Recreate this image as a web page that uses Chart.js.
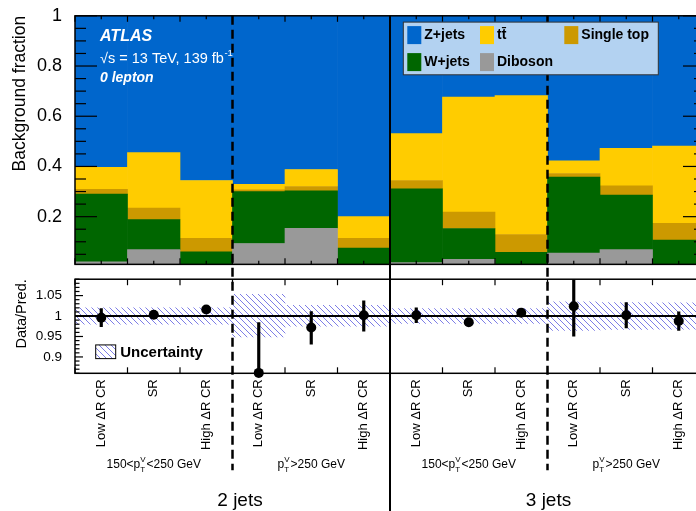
<!DOCTYPE html>
<html>
<head>
<meta charset="utf-8">
<script src="https://cdn.jsdelivr.net/npm/chart.js@4.4.1/dist/chart.umd.min.js"></script>
<style>
  html, body { margin: 0; padding: 0; background: #fff; overflow: hidden; }
  #wrap { position: relative; width: 696px; height: 511px; overflow: hidden; }
  #chart { position: absolute; left: 0; top: 0; }
</style>
</head>
<body>
<div id="wrap"><canvas id="chart" width="710" height="511"></canvas></div>
<script>
// bins: 2 jets (low pTV, high pTV), 3 jets (low pTV, high pTV)
const categories = [
  'Low ΔR CR', 'SR', 'High ΔR CR', 'Low ΔR CR', 'SR', 'High ΔR CR',
  'Low ΔR CR', 'SR', 'High ΔR CR', 'Low ΔR CR', 'SR', 'High ΔR CR'
];

// background fractions, stacked bottom to top
const diboson = [0.020, 0.069, 0.005, 0.093, 0.154, 0.005, 0.017, 0.030, 0.005, 0.055, 0.069, 0.005];
const wjets   = [0.270, 0.119, 0.055, 0.207, 0.149, 0.070, 0.294, 0.123, 0.053, 0.303, 0.217, 0.102];
const stop    = [0.019, 0.046, 0.054, 0.007, 0.017, 0.039, 0.033, 0.065, 0.071, 0.014, 0.037, 0.066];
const ttbar   = [0.087, 0.221, 0.230, 0.022, 0.068, 0.086, 0.187, 0.458, 0.553, 0.050, 0.149, 0.308];
const zjets   = [0.604, 0.545, 0.656, 0.671, 0.612, 0.800, 0.469, 0.324, 0.318, 0.578, 0.528, 0.519];

// data / prediction
const ratio      = [0.996, 1.003, 1.016, 0.861, 0.972, 1.002, 1.002, 0.985, 1.008, 1.024, 1.002, 0.988];
const ratioErrUp = [0.022, 0.007, 0.008, 0.123, 0.039, 0.035, 0.018, 0.004, 0.004, 0.065, 0.031, 0.022];
const ratioErrDn = [0.022, 0.007, 0.008, 0.123, 0.041, 0.039, 0.018, 0.004, 0.004, 0.073, 0.031, 0.023];
const uncLow  = [0.980, 0.980, 0.980, 0.949, 0.975, 0.975, 0.982, 0.982, 0.982, 0.965, 0.967, 0.968];
const uncHigh = [1.020, 1.020, 1.020, 1.053, 1.026, 1.026, 1.018, 1.018, 1.018, 1.035, 1.033, 1.032];

const fracTicks = [0.2, 0.4, 0.6, 0.8, 1];
const ratioTicks = [0.9, 0.95, 1, 1.05];
const ptRegions = [['150<p', '<250 GeV'], ['p', '>250 GeV'], ['150<p', '<250 GeV'], ['p', '>250 GeV']];
const jetLabels = ['2 jets', '3 jets'];

const FONT = "'Liberation Sans', Arial, Helvetica, sans-serif";
Chart.defaults.font.family = FONT;
Chart.defaults.color = '#000';

const canvas = document.getElementById('chart');
const ctx0 = canvas.getContext('2d');

function hatch() {
  const c = document.createElement('canvas');
  c.width = 6; c.height = 6;
  const g = c.getContext('2d');
  g.strokeStyle = 'rgb(125,125,230)';
  g.lineWidth = 1;
  g.beginPath();
  g.moveTo(-1, -1); g.lineTo(7, 7);
  g.moveTo(-1, 5); g.lineTo(1, 7);
  g.moveTo(5, -1); g.lineTo(7, 1);
  g.stroke();
  return ctx0.createPattern(c, 'repeat');
}
const hatchFill = hatch();

const stackBar = (label, data, color) => ({
  type: 'bar', label, data, yAxisID: 'y', backgroundColor: color,
  borderWidth: 0, barPercentage: 1, categoryPercentage: 1, order: 3
});

function line(ctx, x1, y1, x2, y2) {
  ctx.beginPath(); ctx.moveTo(x1, y1); ctx.lineTo(x2, y2); ctx.stroke();
}

function edge(chart, i) {
  const x = chart.scales.x;
  const w = x.getPixelForValue(1) - x.getPixelForValue(0);
  return x.getPixelForValue(0) + (i - 0.5) * w;
}

function yTicks(ctx, ca, s, majors, step, majLen, minLen) {
  const n = Math.round((s.max - s.min) / step);
  const start = Math.ceil(s.min / step - 1e-6);
  for (let k = start; k <= start + n; k++) {
    const v = k * step;
    if (v > s.max + 1e-9) break;
    const isMaj = majors.some(m => Math.abs(m - v) < 1e-6);
    const len = isMaj ? majLen : minLen;
    const py = s.getPixelForValue(v);
    line(ctx, ca.left, py, ca.left + len, py);
    line(ctx, ca.right, py, ca.right - len, py);
  }
}

function ptLabel(ctx, cx, y, pre, post) {
  ctx.font = '12px ' + FONT;
  const w1 = ctx.measureText(pre).width;
  const w3 = ctx.measureText(post).width;
  ctx.font = '8px ' + FONT;
  const w2 = Math.max(ctx.measureText('T').width, ctx.measureText('V').width) + 1;
  let x = cx - (w1 + w2 + w3) / 2;
  ctx.textAlign = 'left';
  ctx.textBaseline = 'alphabetic';
  ctx.font = '12px ' + FONT;
  ctx.fillText(pre, x, y);
  x += w1;
  ctx.font = '8px ' + FONT;
  ctx.fillText('V', x, y - 6);
  ctx.fillText('T', x, y + 4);
  x += w2;
  ctx.font = '12px ' + FONT;
  ctx.fillText(post, x, y);
}

const overlay = {
  id: 'overlay',
  afterDatasetDraw(chart, args) {
    if (args.meta.yAxisID !== 'yr' || chart.data.datasets[args.index].label !== 'Uncertainty') return;
    const ctx = chart.ctx, ca = chart.chartArea, yr = chart.scales.yr;
    ctx.save();
    ctx.strokeStyle = '#000'; ctx.lineWidth = 2;
    const py = yr.getPixelForValue(1);
    line(ctx, ca.left, py, ca.right, py);
    ctx.restore();
  },
  afterDraw(chart) {
    const ctx = chart.ctx, ca = chart.chartArea;
    const y = chart.scales.y, yr = chart.scales.yr;
    ctx.save();
    ctx.strokeStyle = '#000';

    // frames
    ctx.lineWidth = 1.5;
    ctx.strokeRect(ca.left, y.top, ca.right - ca.left, y.bottom - y.top);
    ctx.strokeRect(ca.left, yr.top, ca.right - ca.left, yr.bottom - yr.top);

    // y ticks
    ctx.lineWidth = 1.2;
    yTicks(ctx, ca, y, fracTicks, 0.05, 22, 11);
    yTicks(ctx, ca, yr, ratioTicks, 0.01, 8, 4.5);

    // x ticks
    for (let i = 0; i <= categories.length; i++) {
      const ex = edge(chart, i);
      line(ctx, ex, y.top, ex, y.top + 6);
      line(ctx, ex, y.bottom, ex, y.bottom - 6);
      line(ctx, ex, yr.top, ex, yr.top + 6);
      line(ctx, ex, yr.bottom, ex, yr.bottom - 6);
      if (i < categories.length) {
        const mx = edge(chart, i + 0.5);
        line(ctx, mx, y.top, mx, y.top + 3.5);
        line(ctx, mx, y.bottom, mx, y.bottom - 3.5);
      }
    }

    // region separators
    ctx.lineWidth = 2.5;
    ctx.setLineDash([9, 5]);
    [3, 9].forEach(i => { const ex = edge(chart, i); line(ctx, ex, y.top, ex, yr.bottom + 97); });
    ctx.setLineDash([]);
    ctx.lineWidth = 2;
    const mid = edge(chart, 6);
    line(ctx, mid, y.top, mid, chart.height);

    // legend box
    const lx = ca.left + 328.3, ly = y.top + 6.3;
    ctx.fillStyle = '#b3d2f1';
    ctx.fillRect(lx, ly, 255, 52.7);
    ctx.lineWidth = 1;
    ctx.strokeStyle = '#333';
    ctx.strokeRect(lx, ly, 255, 52.7);
    const ds = chart.data.datasets;
    const find = l => ds.find(d => d.label === l);
    const entries = [
      ['Z+jets', 4, 4, 'Z+jets'], ['t\u0074\u0304', 76.7, 4, 't\u0074\u0304'], ['Single top', 161, 4, 'Single top'],
      ['W+jets', 4, 31, 'W+jets'], ['Diboson', 76.7, 31, 'Diboson']
    ];
    ctx.font = 'bold 14px ' + FONT;
    ctx.textBaseline = 'middle';
    ctx.textAlign = 'left';
    entries.forEach(([text, dx, dy, key]) => {
      ctx.fillStyle = find(key).backgroundColor;
      ctx.fillRect(lx + dx, ly + dy, 14, 18);
      ctx.fillStyle = '#000';
      ctx.fillText(text, lx + dx + 17, ly + dy + 9.5);
    });

    // ATLAS label
    ctx.fillStyle = '#fff';
    ctx.textBaseline = 'alphabetic';
    ctx.font = 'bold italic 16px ' + FONT;
    ctx.fillText('ATLAS', ca.left + 25, y.top + 25);
    ctx.font = '14.5px ' + FONT;
    const t = '\u221As = 13 TeV, 139 fb';
    ctx.fillText(t, ca.left + 25, y.top + 47.5);
    const tw = ctx.measureText(t).width;
    ctx.font = '9.5px ' + FONT;
    ctx.fillText('-1', ca.left + 25 + tw + 0.5, y.top + 40.5);
    ctx.font = 'bold italic 14px ' + FONT;
    ctx.fillText('0 lepton', ca.left + 25, y.top + 66);

    // uncertainty legend
    const ux = ca.left + 20.7, uy = yr.top + 65.7;
    ctx.fillStyle = hatchFill;
    ctx.fillRect(ux, uy, 20, 13.7);
    ctx.strokeStyle = '#000';
    ctx.lineWidth = 1;
    ctx.strokeRect(ux, uy, 20, 13.7);
    ctx.fillStyle = '#000';
    ctx.font = 'bold 15px ' + FONT;
    ctx.textBaseline = 'middle';
    ctx.fillText('Uncertainty', ux + 24.5, uy + 7.5);

    // region and jet labels
    ctx.fillStyle = '#000';
    ptRegions.forEach(([pre, post], r) => {
      const cx = (edge(chart, r * 3) + edge(chart, r * 3 + 3)) / 2;
      ptLabel(ctx, cx, yr.bottom + 94.5, pre, post);
    });
    ctx.font = '19px ' + FONT;
    ctx.textAlign = 'center';
    ctx.textBaseline = 'alphabetic';
    ctx.fillText(jetLabels[0], edge(chart, 3) + 7.5, yr.bottom + 133);
    ctx.fillText(jetLabels[1], edge(chart, 9) + 1, yr.bottom + 133);
    ctx.restore();
  }
};

new Chart(canvas, {
  data: {
    labels: categories,
    datasets: [
      {
        type: 'line', label: 'Data', data: ratio, yAxisID: 'yr', showLine: false,
        pointRadius: 5, pointHoverRadius: 5, pointBackgroundColor: '#000', pointBorderWidth: 0,
        clip: false, order: 0
      },
      {
        type: 'bar', label: 'Stat', yAxisID: 'yr', grouped: false,
        data: ratio.map((v, i) => [v - ratioErrDn[i], v + ratioErrUp[i]]),
        backgroundColor: '#000', borderWidth: 0, maxBarThickness: 2.5,
        barPercentage: 1, categoryPercentage: 1, order: 1
      },
      {
        type: 'bar', label: 'Uncertainty', yAxisID: 'yr', grouped: false,
        data: uncLow.map((v, i) => [v, uncHigh[i]]),
        backgroundColor: hatchFill, borderWidth: 0,
        barPercentage: 1, categoryPercentage: 1, order: 2
      },
      stackBar('Diboson', diboson, '#999999'),
      stackBar('W+jets', wjets, '#006600'),
      stackBar('Single top', stop, '#cc9900'),
      stackBar('t\u0074\u0304', ttbar, '#ffcc00'),
      stackBar('Z+jets', zjets, '#0066cc')
    ]
  },
  options: {
    responsive: false,
    devicePixelRatio: 1,
    animation: false,
    layout: { padding: { top: 12, right: 5, left: 0, bottom: 0 } },
    plugins: { legend: { display: false }, tooltip: { enabled: false } },
    scales: {
      x: {
        stacked: true,
        offset: true,
        grid: { display: false, drawTicks: false },
        border: { display: false },
        ticks: { autoSkip: false, minRotation: 90, maxRotation: 90, padding: 6, font: { size: 13 } },
        afterFit: s => { s.height = 137.7; }
      },
      y: {
        type: 'linear', position: 'left', stack: 'panels', stackWeight: 251, weight: 3,
        stacked: true, min: 0.01, max: 1,
        grid: { display: false }, border: { display: false },
        afterBuildTicks: s => { s.ticks = fracTicks.map(v => ({ value: v })); },
        ticks: { font: { size: 18 }, padding: 5, callback: v => String(v) },
        title: { display: true, text: 'Background fraction', align: 'end', font: { size: 17.5 }, padding: { top: 10, bottom: 0 } },
        afterFit: s => { s.width = 75; }
      },
      gap: {
        type: 'linear', position: 'left', stack: 'panels', stackWeight: 15, weight: 2,
        display: false
      },
      yr: {
        type: 'linear', position: 'left', stack: 'panels', stackWeight: 95, weight: 1,
        stacked: false, min: 0.86, max: 1.09,
        grid: { display: false }, border: { display: false },
        afterBuildTicks: s => { s.ticks = ratioTicks.map(v => ({ value: v })); },
        ticks: { font: { size: 13.5 }, padding: 5, callback: v => String(v) },
        title: { display: true, text: 'Data/Pred.', align: 'end', font: { size: 14.5 }, padding: { top: 13, bottom: 0 } },
        afterFit: s => { s.width = 75; }
      }
    }
  },
  plugins: [overlay]
});
</script>
</body>
</html>
